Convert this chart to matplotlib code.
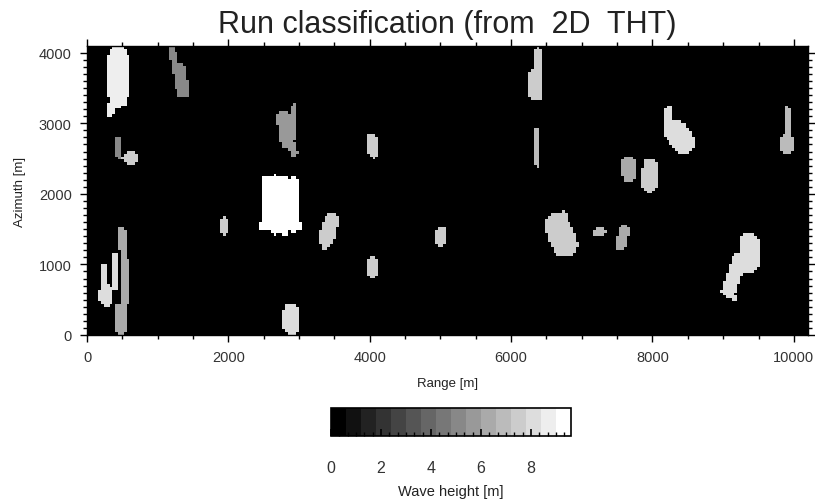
import numpy as np
import matplotlib
matplotlib.use("Agg")
import matplotlib.pyplot as plt
from matplotlib.colors import ListedColormap, BoundaryNorm
from matplotlib.ticker import MultipleLocator

plt.rcParams['font.family'] = ['Liberation Sans', 'DejaVu Sans']

# scene extent [m]
range_max = 10200
azimuth_max = 4096
cell = 40

# classified runs, each drawn as a set of capsule strokes:
# (x0, y0, x1, y1, radius) in metres, with one wave height per stroke
stroke_x0 = [440, 370, 1205, 1330, 2775, 2930, 2875, 4036, 453, 581,
             2535, 2662, 2790, 2917, 2492, 1940, 3455, 3370, 4036, 2889,
             241, 269, 396, 496, 538, 481,
             6372, 6344, 6372, 8227, 8330, 9912, 9898, 7661, 7972, 5013,
             6650, 6740, 7222, 7604, 9374, 9218, 9119]
stroke_y0 = [3940, 3290, 4025, 3800, 3090, 3235, 2710, 2780, 2750, 2496,
             2170, 2198, 2184, 2170, 1531, 1602, 1617, 1361, 1021, 340,
             964, 610, 1134, 1475, 1007, 369,
             4013, 3658, 2893, 3190, 2880, 3190, 2779, 2439, 2383, 1432,
             1540, 1716, 1446, 1475, 1300, 1049, 624]
stroke_x1 = [440, 325, 1330, 1415, 2830, 2930, 2930, 4050, 453, 652,
             2535, 2662, 2790, 2917, 2988, 1940, 3385, 3370, 4050, 2889,
             241, 269, 396, 510, 538, 481,
             6372, 6344, 6372, 8227, 8440, 9912, 9898, 7675, 7958, 5013,
             6760, 6740, 7278, 7548, 9360, 9077, 9147]
stroke_y1 = [3350, 3135, 3405, 3390, 2710, 2780, 2580, 2567, 2540, 2496,
             1531, 1489, 1475, 1517, 1531, 1489, 1361, 1233, 893, 113,
             652, 510, 652, 1049, 510, 85,
             3743, 3403, 2411, 2950, 2720, 2850, 2637, 2254, 2127, 1333,
             1290, 1574, 1446, 1276, 1010, 624, 510]
stroke_r = [140, 60, 50, 45, 90, 35, 60, 72, 45, 85,
            70, 70, 70, 70, 70, 70, 110, 45, 85, 115,
            45, 100, 30, 45, 70, 85,
            50, 100, 40, 50, 165, 40, 85, 95, 110, 85,
            185, 40, 65, 75, 145, 100, 40]
stroke_h = [8.7, 8.7, 5.1, 5.1, 5.7, 5.7, 5.7, 7.5, 5.1, 7.5,
            9.3, 9.3, 9.3, 9.3, 9.3, 7.5, 7.5, 7.5, 7.5, 8.1,
            7.8, 7.8, 7.8, 6.3, 6.3, 6.3,
            7.5, 7.5, 6.9, 8.1, 8.1, 6.9, 6.9, 6.3, 7.5, 7.5,
            7.5, 7.5, 6.9, 6.3, 8.1, 8.1, 8.1]

# colour scale: 16 grey levels of 0.6 m
levels = np.arange(0, 9.6 + 0.01, 0.6)
cmap = ListedColormap([str(g) for g in np.linspace(0, 1, 16)])
norm = BoundaryNorm(levels, cmap.N)

# rasterise the strokes onto the range/azimuth grid
xc = np.arange(cell / 2, range_max, cell)
yc = np.arange(cell / 2, azimuth_max, cell)
X, Y = np.meshgrid(xc, yc)
grid = np.zeros_like(X)
for x0, y0, x1, y1, r, h in zip(stroke_x0, stroke_y0, stroke_x1, stroke_y1, stroke_r, stroke_h):
    dx, dy = x1 - x0, y1 - y0
    L2 = dx * dx + dy * dy
    if L2 > 0:
        t = np.clip(((X - x0) * dx + (Y - y0) * dy) / L2, 0, 1)
    else:
        t = 0
    d = np.hypot(X - (x0 + t * dx), Y - (y0 + t * dy))
    grid[d <= r] = h

fig = plt.figure(figsize=(8.15, 5.02), dpi=100)
ax = fig.add_axes([87 / 815, 1 - 336 / 502, 721 / 815, 289 / 502])
ax.imshow(grid, origin='lower', cmap=cmap, norm=norm, interpolation='nearest',
          extent=[0, range_max, 0, azimuth_max], aspect='auto')
ax.set_xlim(0, range_max)
ax.set_ylim(0, azimuth_max)

ax.xaxis.set_major_locator(MultipleLocator(2000))
ax.xaxis.set_minor_locator(MultipleLocator(500))
ax.yaxis.set_major_locator(MultipleLocator(1000))
ax.yaxis.set_minor_locator(MultipleLocator(100))
ax.tick_params(which='both', direction='out', top=True, right=True,
               labelsize=10.5, colors='black', labelcolor='#333333')
ax.tick_params(which='major', length=5, width=1, pad=6)
ax.tick_params(which='minor', length=3, width=1)
for s in ax.spines.values():
    s.set_linewidth(1)

ax.set_xlabel('Range [m]', fontsize=9.5, labelpad=9, color='#222222')
ax.set_ylabel('Azimuth [m]', fontsize=9.5, labelpad=9, color='#222222')
ax.set_title('Run classification (from  2D  THT)', fontsize=22, pad=10,
             color='#222222')

# horizontal colour bar
cax = fig.add_axes([331 / 815, 1 - 437 / 502, 240 / 815, 28 / 502])
cb = fig.colorbar(plt.cm.ScalarMappable(norm=norm, cmap=cmap), cax=cax,
                  orientation='horizontal', boundaries=levels, ticks=[0, 2, 4, 6, 8])
cb.outline.set_linewidth(1.2)
cax.xaxis.set_minor_locator(MultipleLocator(1 / 3))
cax.tick_params(which='both', direction='in', bottom=True, top=False,
                labelsize=11.5, labelcolor='#333333')
cax.tick_params(which='major', length=5, width=1.2, pad=17)
cax.tick_params(which='minor', length=3, width=1)
cb.set_label('Wave height [m]', fontsize=10.5, labelpad=7, color='#222222')

fig.savefig('out.png', dpi=100)
